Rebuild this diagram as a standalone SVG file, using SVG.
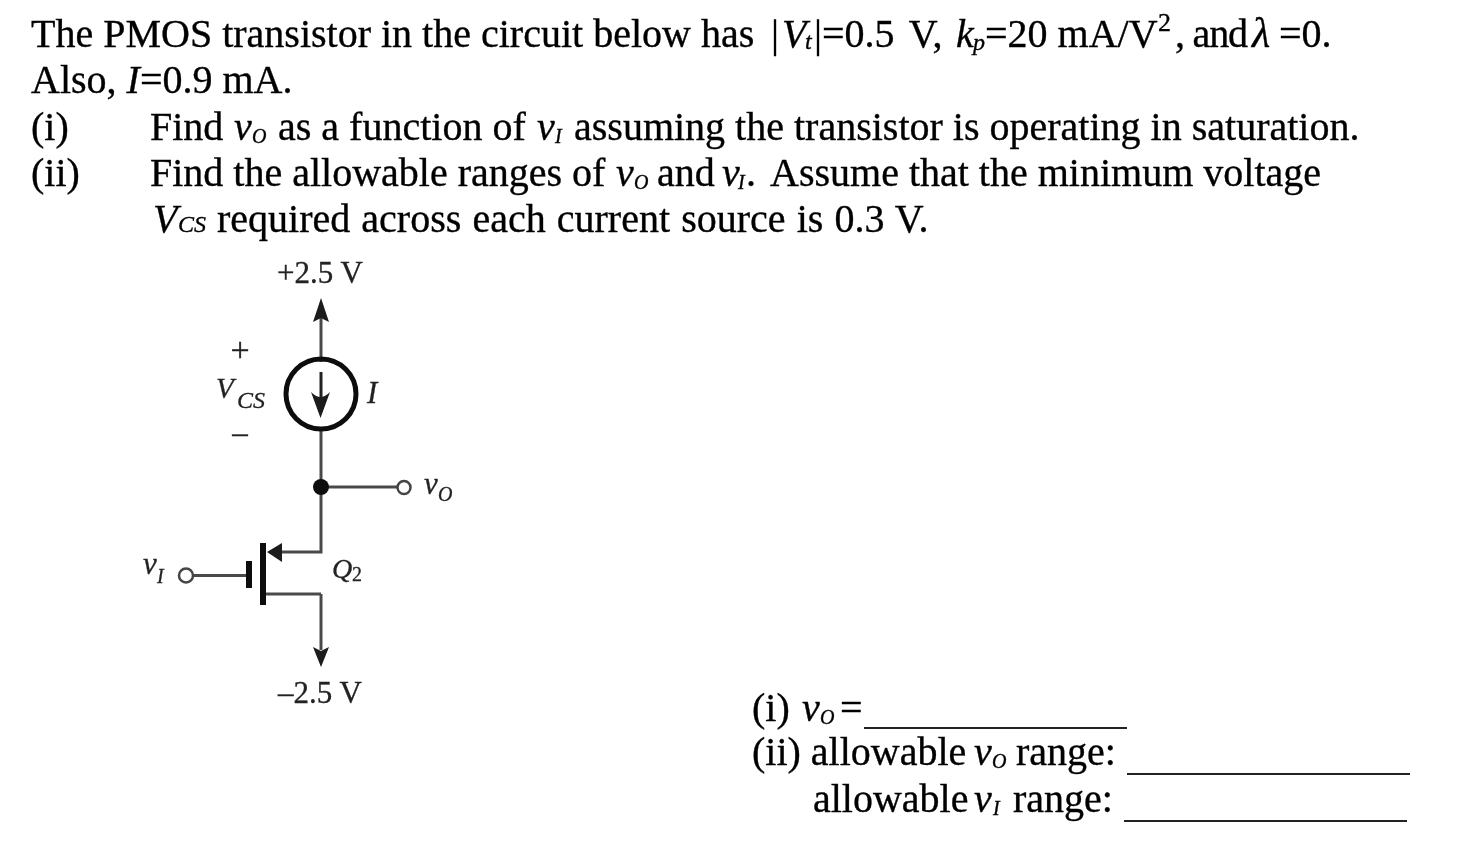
<svg xmlns="http://www.w3.org/2000/svg" width="1464" height="860" viewBox="0 0 1464 860">
<style>
text{font-family:"Liberation Serif","Times New Roman",serif}
.t{font-size:40px;fill:#000;stroke:#000;stroke-width:.35px}
.s{font-size:20px;font-style:italic}
.m{font-size:24px;font-style:italic}
.i{font-style:italic}
.c{font-size:31px;fill:#222;stroke:#222;stroke-width:.3px}
.w{fill:none;stroke:#4a4a4a;stroke-width:3}
.h{fill:#1a1a1a;stroke:none}
.u{stroke:#222;stroke-width:2}
.b{filter:url(#soft)}
.p{filter:url(#crisp)}
</style>
<defs>
<filter id="soft" x="-10%" y="-10%" width="120%" height="120%"><feGaussianBlur stdDeviation="0.7"/></filter>
<filter id="crisp" x="-5%" y="-5%" width="110%" height="110%"><feGaussianBlur stdDeviation="0.35"/></filter>
</defs>
<rect width="1464" height="860" fill="#fff"/>
<g id="question" class="t p">
<text x="31" y="47">The PMOS transistor in the circuit below has</text>
<text x="771" y="47">|</text><text class="i" x="782" y="47">V</text><text class="m" x="805" y="49">t</text>
<text x="814" y="47" word-spacing="5">|=0.5 V,</text>
<text class="i" x="956" y="47">k</text><text class="m" x="973" y="50">p</text>
<text x="985" y="47">=20 mA/V</text><text style="font-size:26px" x="1158" y="31">2</text>
<text x="1175" y="47" textLength="73">, and</text><text class="i" x="1252" y="47" style="font-size:42px">λ</text><text x="1279" y="47">=0.</text>
<text x="31" y="93">Also, <tspan class="i">I</tspan>=0.9 mA.</text>
<text x="31" y="140">(i)</text>
<text x="150" y="140">Find</text><text class="i" x="234" y="140">v</text><text class="s" x="252" y="143">O</text>
<text x="278" y="140">as a function of</text><text class="i" x="537" y="140">v</text><text class="s" x="555" y="143">I</text>
<text x="574" y="140">assuming the transistor is operating in saturation.</text>
<text x="31" y="186">(ii)</text>
<text x="150" y="186">Find the allowable ranges of</text><text class="i" x="616" y="186">v</text><text class="s" x="634" y="189">O</text>
<text x="657" y="186">and</text><text class="i" x="722" y="186">v</text><text class="s" x="738" y="189">I</text>
<text x="746" y="186">.</text><text x="770" y="186">Assume that the minimum voltage</text>
<text class="i" x="153" y="232">V</text><text class="m" x="178" y="232">CS</text>
<text x="217" y="232" word-spacing="1.1">required across each current source is 0.3 V.</text>
</g>
<g id="connectors" class="b">
<path class="w" d="M321 318V362M321 428V487H398M321 487V552H280M321 594V650M264 594H321M193 575.500H246"/>
</g>
<g id="supply-top" class="b"><path class="h" d="M321 298L329 322L321 318L313 322Z"/><text class="c" x="320" y="283" text-anchor="middle">+2.5 V</text></g>
<g id="current-source" class="b">
<circle cx="321" cy="394" r="35" fill="none" stroke="#111" stroke-width="5"/>
<path d="M321 372V412" fill="none" stroke="#222" stroke-width="3"/>
<path class="h" d="M320.500 418L311 392Q320.500 402 330 392Z"/>
<text class="c i" x="367" y="403">I</text>
</g>
<g id="vcs-label" class="b">
<text class="c" style="font-size:34px" x="240" y="361" text-anchor="middle">+</text>
<text class="c i" style="font-size:29px" x="216" y="398">V</text><text class="c i" style="font-size:24px" x="237" y="408">CS</text>
<text class="c" x="240" y="443" text-anchor="middle">–</text>
</g>
<g id="output-node" class="b">
<circle cx="321" cy="487" r="8" fill="#111"/>
<circle cx="404" cy="487.500" r="6.500" fill="#fff" stroke="#444" stroke-width="2.500"/>
<text class="c i" x="424" y="494">v</text><text class="c i" style="font-size:20px" x="438" y="501">O</text>
</g>
<g id="transistor-Q2" class="b">
<rect x="260" y="543" width="6" height="62" fill="#111"/>
<rect x="246" y="561" width="6" height="27" fill="#111"/>
<path class="h" d="M267 552L282 543V562Z"/>
<text class="c i" style="font-size:28px" x="332" y="578">Q</text><text class="c" style="font-size:20px" x="352" y="581">2</text>
</g>
<g id="input-node" class="b">
<circle cx="186" cy="575.500" r="7" fill="#fff" stroke="#444" stroke-width="2.500"/>
<text class="c i" x="143" y="574">v</text><text class="c i" style="font-size:20px" x="157" y="583">I</text>
</g>
<g id="supply-bottom" class="b"><path class="h" d="M321 667L313 647L321 651L329 647Z"/><text class="c" x="320" y="703" text-anchor="middle">–2.5 V</text></g>
<g id="answers" class="t p">
<text x="752" y="721">(i)</text><text class="i" x="802" y="721">v</text><text class="s" x="820" y="724">O</text><text x="840" y="721">=</text>
<text x="752" y="765">(ii) allowable</text><text class="i" x="974" y="765">v</text><text class="s" x="992" y="768">O</text><text x="1016" y="765">range:</text>
<text x="813" y="812">allowable</text><text class="i" x="974" y="812">v</text><text class="s" x="993" y="815">I</text><text x="1013" y="812">range:</text>
<path class="u" d="M864 728H1127M1127 774H1410M1124 821H1407"/>
</g>
</svg>
